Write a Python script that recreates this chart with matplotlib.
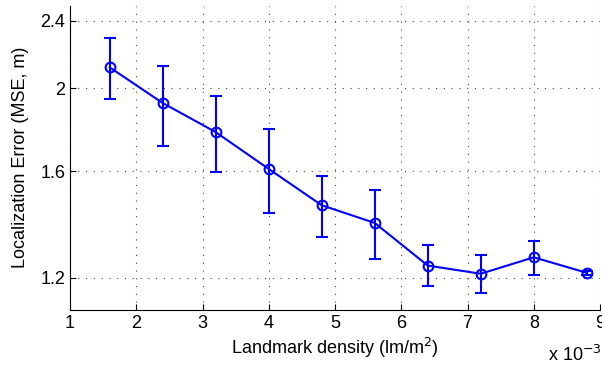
import matplotlib
matplotlib.use('Agg')
import matplotlib.pyplot as plt
import numpy as np
from matplotlib.ticker import FixedLocator, FixedFormatter, NullLocator

plt.rcParams['font.family'] = ['Liberation Sans', 'DejaVu Sans']

# landmark density (x 1e-3 lm/m^2)
density = [1.6, 2.4, 3.2, 4.0, 4.8, 5.6, 6.4, 7.2, 8.0, 8.8]
# localization error (MSE, m)
err_mean = [2.116, 1.922, 1.777, 1.609, 1.459, 1.391, 1.240, 1.213, 1.268, 1.216]
err_low = [1.942, 1.711, 1.595, 1.427, 1.340, 1.262, 1.172, 1.151, 1.208, 1.210]
err_high = [2.290, 2.125, 1.957, 1.790, 1.579, 1.520, 1.310, 1.277, 1.325, 1.222]

y_ticks = [1.2, 1.6, 2, 2.4]
y_labels = ['1.2', '1.6', '2', '2.4']

m = np.array(err_mean)
yerr = [m - np.array(err_low), np.array(err_high) - m]

fig = plt.figure(figsize=(6.02, 3.71), dpi=100)
ax = fig.add_axes([0.1163, 0.1644, 0.8804, 0.8206])

ax.errorbar(density, err_mean, yerr=yerr, color='#0000ff', lw=1.5,
            marker='o', ms=7, mfc='none', mec='#0000ff', mew=1.5,
            capsize=4.5, capthick=1.5, elinewidth=1.5)

ax.set_yscale('log')
ax.set_xlim(1, 9)
ax.set_ylim(1.1, 2.5)
ax.yaxis.set_major_locator(FixedLocator(y_ticks))
ax.yaxis.set_major_formatter(FixedFormatter(y_labels))
ax.yaxis.set_minor_locator(NullLocator())
ax.set_xticks(range(1, 10))

ax.grid(True, ls=(0, (1, 6)), color='#444444', lw=0.8)
ax.spines['top'].set_visible(False)
ax.spines['right'].set_visible(False)
ax.tick_params(direction='in', labelsize=13, length=4, width=0.8)

ax.set_xlabel('Landmark density (lm/m$^2$)', fontsize=13, labelpad=3)
ax.set_ylabel('Localization Error (MSE, m)', fontsize=13, labelpad=8)
fig.text(0.91, 0.015, r'x 10$^{-3}$', fontsize=13, ha='left', va='bottom')

fig.savefig('out.png', dpi=100)
